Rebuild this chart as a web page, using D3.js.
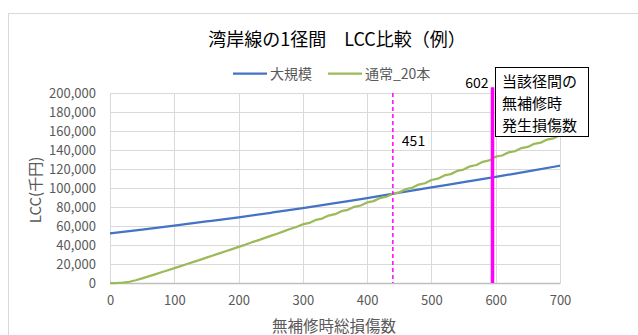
<!DOCTYPE html>
<html><head><meta charset="utf-8">
<script src="https://cdn.jsdelivr.net/npm/d3@7"></script>
<style>body{margin:0;background:#fff}svg{display:block}text{font-family:"Noto Sans CJK JP","Noto Sans",sans-serif}</style>
</head><body><svg id="c" width="638" height="335"></svg>
<script>
const titleText = "湾岸線の1径間　LCC比較（例）";
const seriesNames = ["大規模", "通常_20本"];
const xTicks = [0,100,200,300,400,500,600,700];
const yTicks = [0,20000,40000,60000,80000,100000,120000,140000,160000,180000,200000];
const blueX = [0,50,100,150,200,250,300,350,400,450,500,550,600,650,700];
const blueY = [52300,56300,60500,64800,69200,73900,78800,84100,89400,95000,100600,106100,111700,117500,123500];
const greenX = d3.range(0,701,10);
const greenY = [0,0,300,1300,2900,4900,7000,9100,11300,13400,15600,17800,20000,22200,24400,26700,28900,31200,33400,35700,38000,40200,42700,44900,47200,49600,51900,54300,56800,58900,61800,
63200,66400,67800,71000,72400,75600,77000,80200,81600,84800,86200,89400,90800,94000,95400,98800,100200,103600,105000,108400,109800,113200,114600,118000,119400,122800,124200,127600,129000,133000,
134200,137500,138700,142000,143200,146500,147700,151000,152300,155500];
const refLineX = [440, 595];
const refLineLabels = ["451", "602"];
const refLineTop = [200000, 206000];
const boxLines = ["当該径間の", "無補修時", "発生損傷数"];
const xTitle = "無補修時総損傷数";
const yTitle = "LCC(千円)";

const svg = d3.select("#c");
const x = d3.scaleLinear().domain([0,700]).range([110,560]);
const y = d3.scaleLinear().domain([0,200000]).range([283,93]);

// chart border
svg.append("rect").attr("x",8.5).attr("y",13.5).attr("width",700).attr("height",400)
  .attr("fill","#fff").attr("stroke","#d9d9d9").attr("stroke-width",1);

// grid
const g = svg.append("g");
g.selectAll(".hg").data(yTicks.slice(1)).join("line")
  .attr("x1",x(0)).attr("x2",x(700)).attr("y1",d=>Math.round(y(d))+0.5).attr("y2",d=>Math.round(y(d))+0.5)
  .attr("stroke","#d9d9d9");
g.selectAll(".vg").data(xTicks).join("line")
  .attr("y1",y(200000)).attr("y2",y(0)).attr("x1",d=>Math.round(x(d))+0.5).attr("x2",d=>Math.round(x(d))+0.5)
  .attr("stroke","#d9d9d9");

// axes
const xAxis = svg.append("g").attr("transform",`translate(0,${y(0)})`)
  .call(d3.axisBottom(x).tickValues(xTicks).tickSize(0).tickPadding(13).tickFormat(d3.format("d")));
xAxis.select(".domain").attr("stroke","#bfbfbf").attr("stroke-width",1.5);
xAxis.selectAll("text").attr("fill","#595959").style("font-size","13px");
const yAxis = svg.append("g").attr("transform",`translate(${x(0)},0)`)
  .call(d3.axisLeft(y).tickValues(yTicks).tickSize(0).tickPadding(14).tickFormat(d3.format(",")));
yAxis.select(".domain").remove();
yAxis.selectAll("text").attr("fill","#595959").style("font-size","13px");

// lines
svg.append("path").datum(blueX.map((v,i)=>[v,blueY[i]]))
  .attr("d",d3.line().x(d=>x(d[0])).y(d=>y(d[1])).curve(d3.curveMonotoneX))
  .attr("fill","none").attr("stroke","#4472C4").attr("stroke-width",2.25);
svg.append("path").datum(greenX.map((v,i)=>[v,greenY[i]]))
  .attr("d",d3.line().x(d=>x(d[0])).y(d=>y(d[1]))).attr("fill","none").attr("stroke","#9BBB59").attr("stroke-width",2.25)
  .attr("stroke-linejoin","round");

// reference lines
svg.append("line").attr("x1",x(refLineX[0])).attr("x2",x(refLineX[0])).attr("y1",y(refLineTop[0])).attr("y2",y(0))
  .attr("stroke","#ff00ff").attr("stroke-width",1.5).attr("stroke-dasharray","4,3");
svg.append("line").attr("x1",x(refLineX[1])).attr("x2",x(refLineX[1])).attr("y1",y(refLineTop[1])).attr("y2",y(0))
  .attr("stroke","#ff00ff").attr("stroke-width",3.5);
svg.append("text").attr("x",x(refLineX[0])+9).attr("y",146).text(refLineLabels[0])
  .attr("fill","#000").style("font-size","14px");
svg.append("text").attr("x",x(refLineX[1])-4).attr("y",88).attr("text-anchor","end").text(refLineLabels[1])
  .attr("fill","#000").style("font-size","14px");

// box
svg.append("rect").attr("x",495.5).attr("y",67.5).attr("width",93).attr("height",69)
  .attr("fill","#fff").attr("stroke","#000").attr("stroke-width",1);
svg.selectAll(".bl").data(boxLines).join("text")
  .attr("x",502).attr("y",(d,i)=>87+i*22).text(d=>d).attr("fill","#000").style("font-size","15px");

// title
svg.append("text").attr("x",337).attr("y",45.5).attr("text-anchor","middle").text(titleText)
  .attr("fill","#000").style("font-size","18px");

// legend
const lg = svg.append("g");
const legX = [233, 328];
const legColors = ["#4472C4","#9BBB59"];
seriesNames.forEach((n,i)=>{
  lg.append("line").attr("x1",legX[i]).attr("x2",legX[i]+34).attr("y1",73.5).attr("y2",73.5)
    .attr("stroke",legColors[i]).attr("stroke-width",2.25);
  lg.append("text").attr("x",legX[i]+37).attr("y",78.5).text(n).attr("fill","#595959").style("font-size","14px");
});

// axis titles
svg.append("text").attr("x",334).attr("y",332).attr("text-anchor","middle").text(xTitle)
  .attr("fill","#595959").style("font-size","15.5px");
svg.append("text").attr("transform","translate(41,190) rotate(-90)").attr("text-anchor","middle").text(yTitle)
  .attr("fill","#595959").style("font-size","15px");
</script></body></html>
